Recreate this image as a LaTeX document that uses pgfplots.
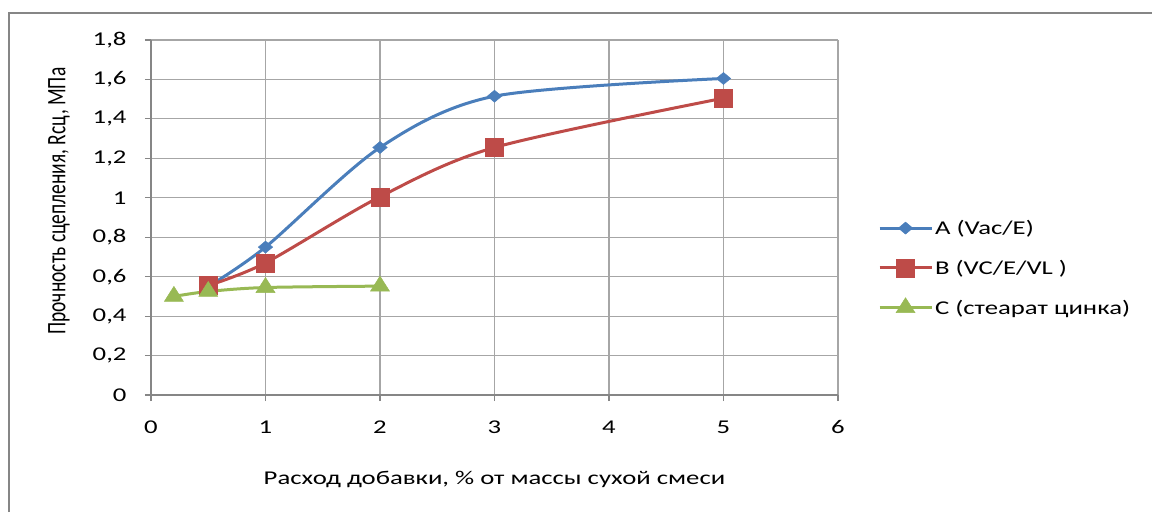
\documentclass[border=0pt]{standalone}
\usepackage{fontspec}
\setmainfont{Carlito}[FakeStretch=1.37]
\newfontfamily\plainfont{Carlito}
\usepackage{pgfplots}
\pgfplotsset{compat=1.18}

\definecolor{serA}{HTML}{4A7EBB}
\definecolor{serB}{HTML}{BE4B48}
\definecolor{serC}{HTML}{98B954}
\definecolor{gridc}{HTML}{A6A6A6}
\definecolor{axc}{HTML}{868686}

\begin{document}
\begin{tikzpicture}
  \useasboundingbox (0pt,0pt) rectangle (1152pt,512pt);
  % chart frame (only top and left edge visible)
  \draw[axc, line width=2pt] (9pt,0pt) -- (9pt,499pt) -- (1152pt,499pt);
  \begin{axis}[
    at={(151pt,117pt)}, anchor=south west,
    scale only axis, width=687pt, height=355pt,
    xmin=0, xmax=6, ymin=0, ymax=1.8,
    xtick={0,1,2,3,4,5,6},
    ytick={0,0.2,0.4,0.6,0.8,1,1.2,1.4,1.6,1.8},
    /pgf/number format/use comma,
    /pgf/number format/assume math mode=true,
    font=\fontsize{19.5}{23}\selectfont,
    axis lines=left, axis line style={-, axc, line width=1.2pt},
    grid=major, major grid style={gridc, line width=1.1pt},
    tick align=outside, major tick length=6pt,
    tick style={axc, line width=1.1pt},
    xticklabel style={yshift=-16pt},
    yticklabel style={xshift=-15pt},
    xlabel={Расход добавки, \% от массы сухой смеси},
    ylabel={\scalebox{1}[1.37]{\plainfont Прочность сцепления, Rсц, МПа}},
    xlabel style={at={(axis description cs:0.5,-0.239)}, anchor=center},
    ylabel style={at={(axis description cs:-0.134,0.546)}, anchor=center},
    legend style={draw=none, fill=none, inner sep=0pt,
      at={(axis description cs:1.058,0.358)}, anchor=west,
      row sep=20pt, font=\fontsize{19.5}{23}\selectfont},
    legend cell align=left,
    legend image code/.code={%
      \draw[mark repeat=2, mark phase=2, #1] plot coordinates {(0pt,0pt) (26pt,0pt) (52pt,0pt)};},
    every axis plot/.append style={line width=3pt, smooth},
    clip=false,
  ]
    \addplot[serA, mark=diamond*, mark size=6pt, mark options={solid, fill=serA, draw=serA, line width=0.5pt, xscale=1.6}]
      coordinates {(0.5,0.55) (1,0.75) (2,1.255) (3,1.515) (5,1.605)};
    \addlegendentry{A (Vac/E)}
    \addplot[serB, mark=square*, mark size=9pt, mark options={solid, fill=serB, draw=serB, line width=0.5pt}]
      coordinates {(0.5,0.555) (1,0.67) (2,1.005) (3,1.255) (5,1.505)};
    \addlegendentry{B (VC/E/VL )}
    \addplot[serC, mark=triangle*, mark size=10pt, mark options={solid, fill=serC, draw=serC, line width=0.5pt, xscale=1.1}]
      coordinates {(0.2,0.5) (0.5,0.525) (1,0.545) (2,0.552)};
    \addlegendentry{C (стеарат цинка)}
  \end{axis}
\end{tikzpicture}
\end{document}
